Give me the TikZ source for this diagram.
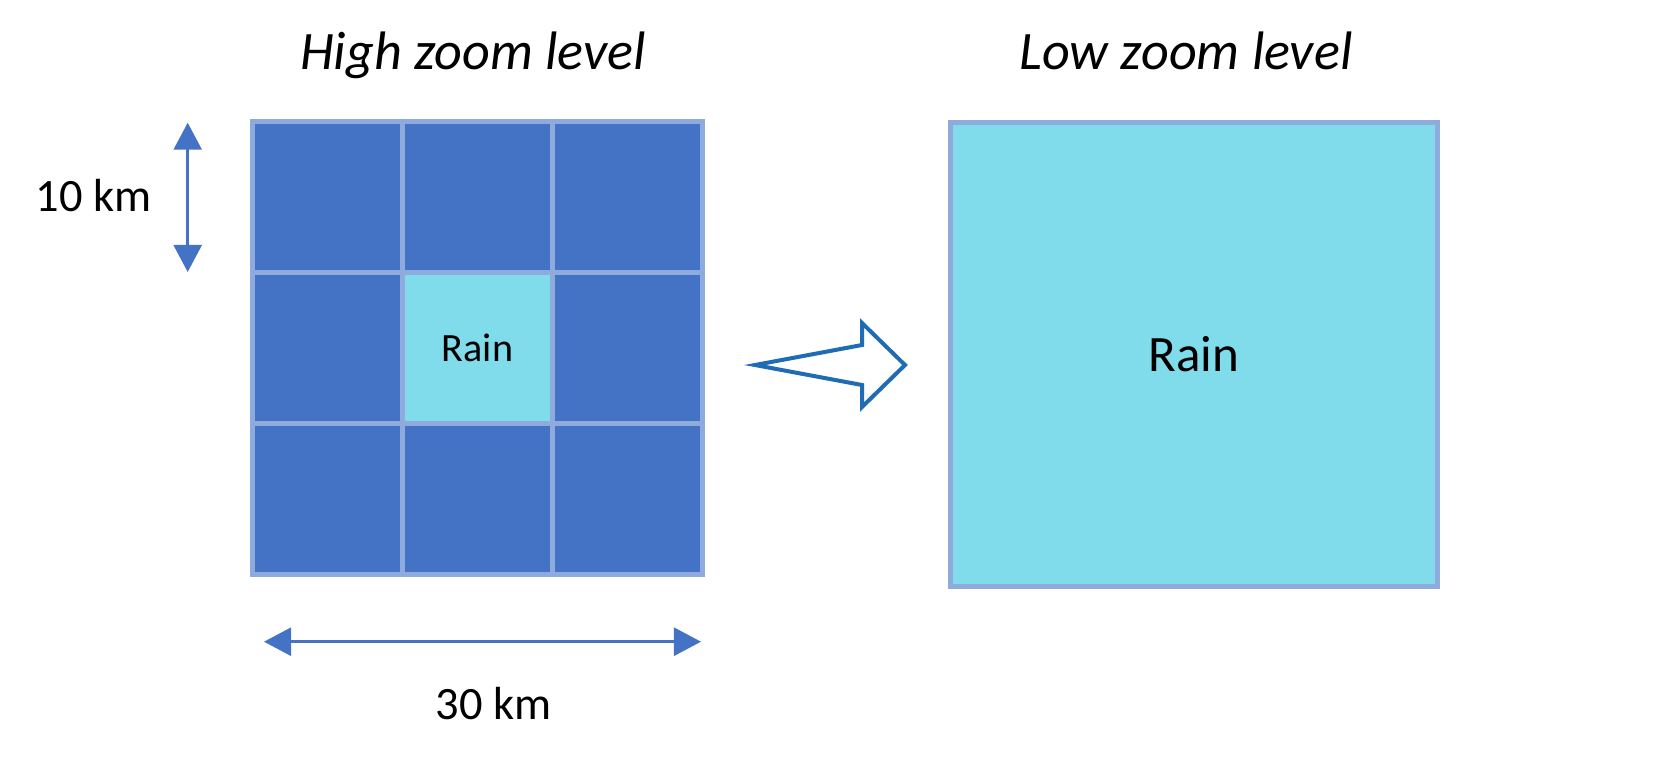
\documentclass[tikz,border=0pt]{standalone}
\usepackage{fontspec}
\setmainfont{Carlito}
\usetikzlibrary{arrows.meta}
\definecolor{cellblue}{HTML}{4472C4}
\definecolor{gridline}{HTML}{8FAADC}
\definecolor{raincyan}{HTML}{80DCEA}
\definecolor{arrowblue}{HTML}{1F6CB5}
\begin{document}
\begin{tikzpicture}[x=0.01cm,y=-0.01cm,
  cell/.style={draw=gridline, line width=0.05cm, fill=cellblue, minimum width=1.5cm, minimum height=1.51cm, inner sep=0pt, outer sep=0pt},
  raincell/.style={cell, fill=raincyan},
  dimline/.style={draw=cellblue, line width=0.025cm, {Triangle[length=0.27cm,width=0.28cm]}-{Triangle[length=0.27cm,width=0.28cm]}},
  titletext/.style={anchor=base, font=\fontsize{15.4}{18}\selectfont\itshape, inner sep=0pt},
  lbltext/.style={anchor=base, font=\fontsize{13.2}{16}\selectfont, inner sep=0pt},
  blockarrow/.style={draw=arrowblue, line width=0.04cm, fill=white, line join=miter}]
\useasboundingbox (0,0) rectangle (1657,757);
% titles
\node[titletext] (t1) at (473,69) {High zoom level};
\node[titletext] (t2) at (1186,69) {Low zoom level};
% grid of cells
\node[cell] (c11) at (327.5,197) {};
\node[cell] (c12) at (477.5,197) {};
\node[cell] (c13) at (627.5,197) {};
\node[cell] (c21) at (327.5,348) {};
\node[cell] (c23) at (627.5,348) {};
\node[cell] (c31) at (327.5,499) {};
\node[cell] (c32) at (477.5,499) {};
\node[cell] (c33) at (627.5,499) {};
\node[raincell, font=\fontsize{11.4}{14}\selectfont] (c22) at (477.5,348) {Rain};
% big box
\node[raincell, minimum width=4.87cm, minimum height=4.64cm, font=\fontsize{14.5}{17}\selectfont] (big) at (1194,354.5) {Rain};
% dimension arrows
\coordinate (vt) at (187.7,122.7);
\coordinate (vb) at (187.7,272);
\draw[dimline] (vt) -- (vb);
\coordinate (hl) at (264,641.7);
\coordinate (hr) at (701,641.7);
\draw[dimline] (hl) -- (hr);
\node[lbltext] (l10) at (93.5,211.6) {10 km};
\node[lbltext] (l30) at (493.5,719.5) {30 km};
% block arrow
\draw[blockarrow] (755,365) -- (862,345) -- (862,323) -- (905,365) -- (862,407) -- (862,385) -- cycle;
\end{tikzpicture}
\end{document}
